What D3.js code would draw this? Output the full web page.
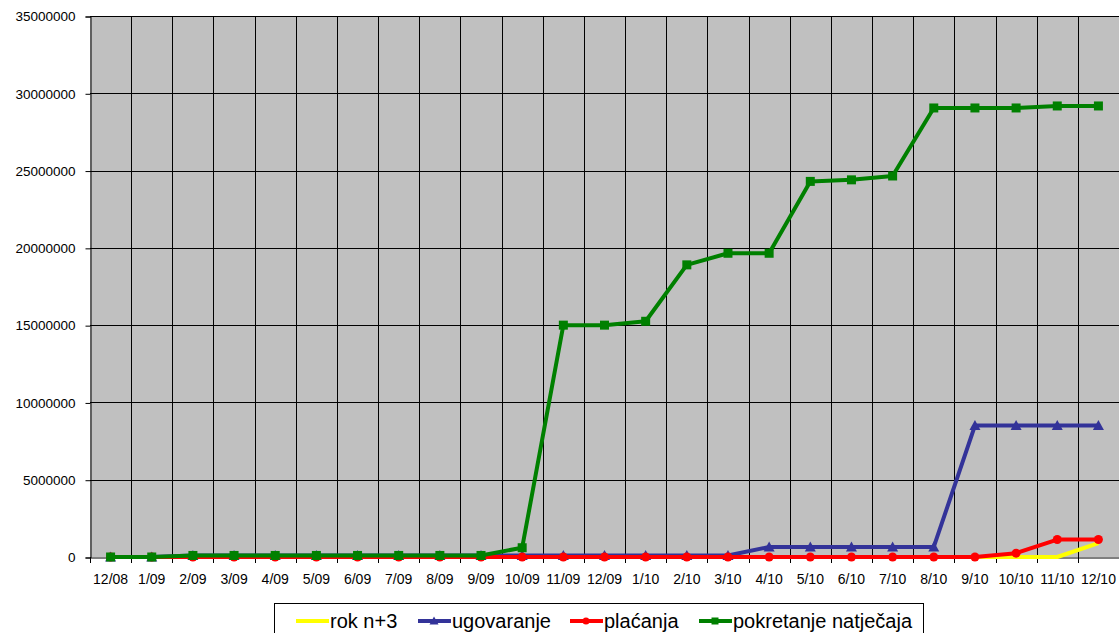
<!DOCTYPE html>
<html>
<head>
<script src="https://cdnjs.cloudflare.com/ajax/libs/d3/7.8.5/d3.min.js"></script>
<style>
  body { margin: 0; background: #fff; }
  svg text { font-family: "Liberation Sans", Arial, sans-serif; fill: #000; }
</style>
</head>
<body>
<div id="vis"></div>
<script>
const months = ["12/08","1/09","2/09","3/09","4/09","5/09","6/09","7/09","8/09","9/09",
  "10/09","11/09","12/09","1/10","2/10","3/10","4/10","5/10","6/10","7/10","8/10",
  "9/10","10/10","11/10","12/10"];

const rokN3 = [0,0,0,0,0,0,0,0,0,0,0,0,0,0,0,0,0,0,0,0,0,0,0,0,900000];
const ugovaranje = [0,0,100000,100000,100000,100000,100000,100000,100000,100000,
  100000,100000,100000,100000,100000,100000,650000,650000,650000,650000,650000,
  8500000,8500000,8500000,8500000];
const placanja = [0,0,0,0,0,0,0,0,0,0,0,0,0,0,0,0,0,0,0,0,0,0,250000,1130000,1130000];
const pokretanje = [0,0,100000,100000,100000,100000,100000,100000,100000,100000,
  600000,15000000,15000000,15250000,18900000,19650000,19650000,24300000,24400000,
  24650000,29050000,29050000,29050000,29180000,29180000];

const yTicks = [0,5000000,10000000,15000000,20000000,25000000,30000000,35000000];

const series = [
  {name: "rok n+3", values: rokN3, color: "#ffff00", marker: null},
  {name: "ugovaranje", values: ugovaranje, color: "#333399", marker: "triangle"},
  {name: "plaćanja", values: placanja, color: "#ff0000", marker: "circle"},
  {name: "pokretanje natječaja", values: pokretanje, color: "#008000", marker: "square"}
];

const width = 1119, height = 633;
const m = {left: 90, right: 0, top: 16, bottom: 76};

const svg = d3.select("#vis").append("svg")
  .attr("width", width).attr("height", height);

const x = d3.scaleBand().domain(months).range([m.left, width - m.right]);
const y = d3.scaleLinear().domain([0, 35000000]).range([height - m.bottom, m.top]);

// plot background
svg.append("rect")
  .attr("x", m.left).attr("y", m.top)
  .attr("width", width - m.right - m.left)
  .attr("height", y(0) - m.top)
  .attr("fill", "#c0c0c0");

// vertical grid at category boundaries
const bounds = months.map(d => x(d)).concat([width - m.right]);
svg.append("g").selectAll("line").data(bounds.slice(1)).join("line")
  .attr("x1", d => Math.round(d) + 0.5).attr("x2", d => Math.round(d) + 0.5)
  .attr("y1", m.top).attr("y2", y(0))
  .attr("stroke", "#000").attr("stroke-width", 1);

// horizontal grid
svg.append("g").selectAll("line").data(yTicks.slice(1)).join("line")
  .attr("x1", m.left).attr("x2", width - m.right)
  .attr("y1", d => Math.round(y(d)) + 0.5).attr("y2", d => Math.round(y(d)) + 0.5)
  .attr("stroke", "#000").attr("stroke-width", 1);

// y axis
const yAxis = svg.append("g")
  .attr("transform", `translate(${m.left + 0.5},0.5)`)
  .call(d3.axisLeft(y).tickValues(yTicks).tickFormat(d3.format("d")).tickSize(5).tickPadding(10));
yAxis.select(".domain").attr("stroke", "#000");
yAxis.selectAll(".tick line").attr("stroke", "#000");
yAxis.selectAll("text").style("font-size", "13.5px");

// x axis
const xAxis = svg.append("g")
  .attr("transform", `translate(0,${Math.round(y(0)) + 0.5})`)
  .call(d3.axisBottom(x).tickSize(0).tickPadding(17));
xAxis.select(".domain").attr("stroke", "#000");
xAxis.selectAll("text").style("font-size", "14px");
svg.append("g").selectAll("line").data(bounds).join("line")
  .attr("x1", d => Math.round(d) + 0.5).attr("x2", d => Math.round(d) + 0.5)
  .attr("y1", y(0)).attr("y2", y(0) + 6)
  .attr("stroke", "#000");

const cx = d => x(d) + x.bandwidth() / 2;
const line = d3.line().x((v, i) => cx(months[i])).y(v => y(v));

function drawMarker(g, type, color, px, py, s) {
  if (type === "square") {
    g.append("rect").attr("x", px - s / 2).attr("y", py - s / 2)
      .attr("width", s).attr("height", s).attr("fill", color);
  } else if (type === "circle") {
    g.append("circle").attr("cx", px).attr("cy", py).attr("r", s / 2).attr("fill", color);
  } else if (type === "triangle") {
    g.append("path")
      .attr("d", `M${px},${py - s / 2 - 1}L${px + s / 2 + 1},${py + s / 2}L${px - s / 2 - 1},${py + s / 2}Z`)
      .attr("fill", color);
  }
}

series.forEach(s => {
  const g = svg.append("g");
  g.append("path").attr("d", line(s.values))
    .attr("fill", "none").attr("stroke", s.color).attr("stroke-width", 4)
    .attr("stroke-linejoin", "round");
  if (s.marker) {
    s.values.forEach((v, i) => drawMarker(g, s.marker, s.color, cx(months[i]), y(v), 9));
  }
});

// legend
const lg = svg.append("g");
lg.append("rect").attr("x", 274.5).attr("y", 603.5).attr("width", 649).attr("height", 40)
  .attr("fill", "#fff").attr("stroke", "#000");
const legendX = [296, 418, 570, 699];
series.forEach((s, i) => {
  const lx = legendX[i], ly = 621;
  lg.append("line").attr("x1", lx).attr("x2", lx + 33).attr("y1", ly).attr("y2", ly)
    .attr("stroke", s.color).attr("stroke-width", 4);
  if (s.marker) drawMarker(lg, s.marker, s.color, lx + 16, ly, 7);
  lg.append("text").attr("x", lx + 34).attr("y", ly + 7).text(s.name)
    .style("font-size", "20px");
});
</script>
</body>
</html>
